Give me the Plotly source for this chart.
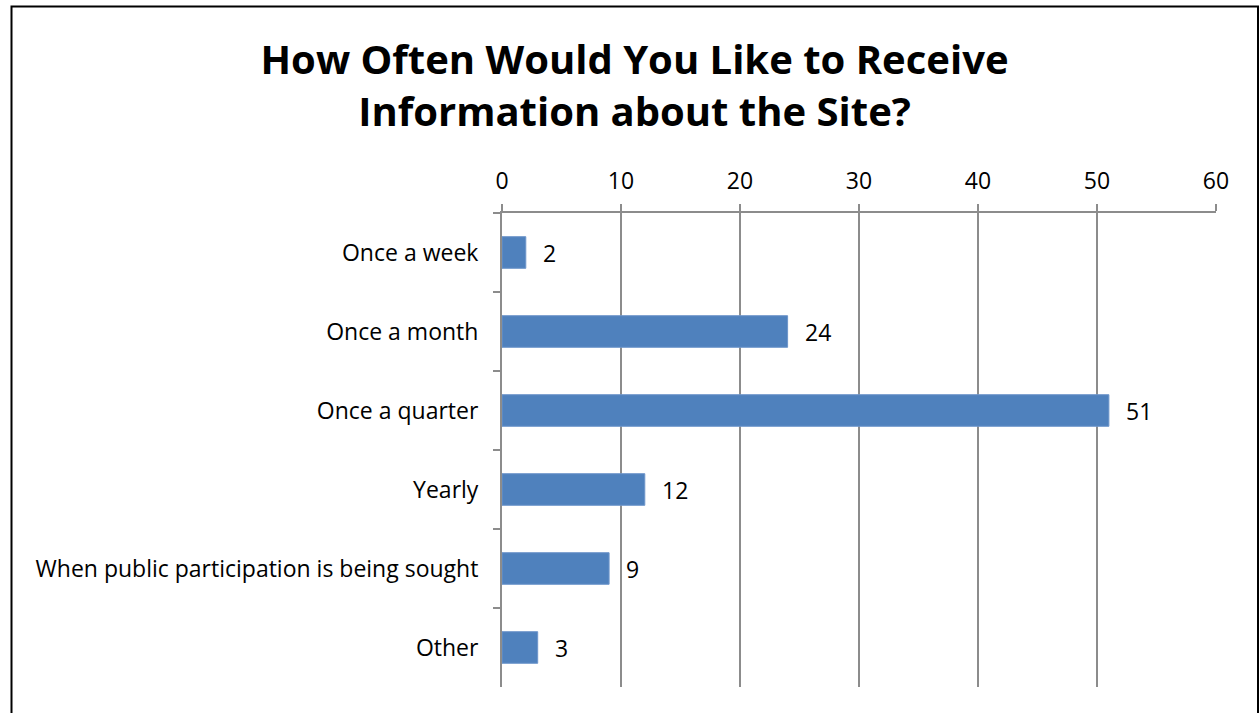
import plotly.graph_objects as go

categories = ["Once a week", "Once a month", "Once a quarter", "Yearly",
              "When public participation is being sought", "Other"]
values = [2, 24, 51, 12, 9, 3]
x_ticks = [0, 10, 20, 30, 40, 50, 60]

title_text = "How Often Would You Like to Receive<br>Information about the Site?"
FONT = "Open Sans"
GRID = "#8c8c8c"
FS = 23

fig = go.Figure()
fig.add_trace(go.Bar(
    y=categories, x=values, orientation="h",
    marker=dict(color="#4F81BD", line=dict(color="#6E96CB", width=1)),
    width=0.4, hoverinfo="x+y", showlegend=False,
))

for c, v in zip(categories, values):
    fig.add_annotation(x=v, y=c, text=str(v), showarrow=False,
                       xanchor="left", xshift=15,
                       font=dict(family=FONT, size=FS, color="black"))

W, H = 1259, 713
L, R, T, B = 502, 43, 213, 26
pw, ph = W - L - R, H - T - B

def px(xp):
    return (xp - L) / pw

def py(yp):
    return (H - B - yp) / ph

fig.add_shape(type="rect", xref="paper", yref="paper",
              x0=px(11.5), x1=px(1258), y0=py(730), y1=py(6.5),
              line=dict(color="black", width=2), fillcolor="rgba(0,0,0,0)")

fig.update_layout(
    width=W, height=H,
    margin=dict(l=L, r=R, t=T, b=B),
    paper_bgcolor="white", plot_bgcolor="white",
    font=dict(family=FONT, size=FS, color="black"),
    title=dict(text="<b>" + title_text + "</b>", x=0.504, xanchor="center",
               y=1 - 74 / H, yanchor="middle", yref="container",
               font=dict(family=FONT, size=40, color="black")),
    xaxis=dict(side="top", range=[0, 60], tickvals=x_ticks,
               showgrid=True, gridcolor=GRID, gridwidth=2,
               showline=True, linecolor=GRID, linewidth=2,
               ticks="outside", ticklen=7, tickcolor=GRID, tickwidth=2,
               zeroline=False, tickfont=dict(size=FS), ticklabelstandoff=6),
    yaxis=dict(autorange="reversed", showgrid=False,
               showline=True, linecolor=GRID, linewidth=2,
               ticks="outside", ticklen=7, tickcolor=GRID, tickwidth=2,
               tickson="boundaries", tickfont=dict(size=FS),
               ticklabelstandoff=17),
)

fig.write_html("out.html", config={"displayModeBar": False},
               post_script="document.body.style.margin='0';"
                           "document.body.style.overflow='hidden';")
